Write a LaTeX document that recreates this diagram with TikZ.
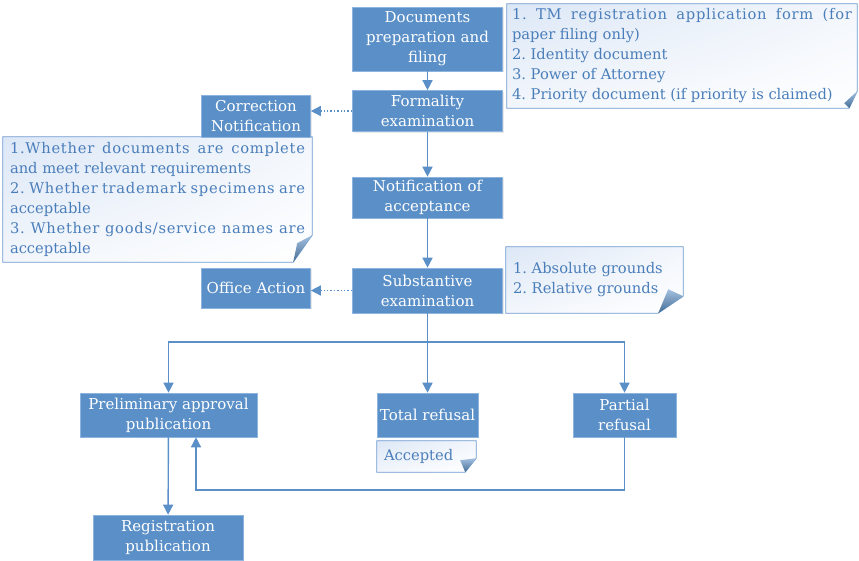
\documentclass[tikz,border=0pt]{standalone}
\usepackage{fontspec}
\setmainfont{DejaVu Serif}
\usetikzlibrary{arrows.meta,backgrounds,shadows,shadings}
\definecolor{boxblue}{RGB}{90,143,199}
\definecolor{boxedge}{RGB}{140,180,222}
\definecolor{notetext}{RGB}{74,126,186}
\definecolor{noteedge}{RGB}{110,155,208}
\definecolor{notefill}{RGB}{220,231,246}
\newcommand\resetsp{\spaceskip=0pt\xspaceskip=0pt\frenchspacing\relax}
\newcommand\jline[2]{\makebox[#1][s]{\resetsp\addfontfeature{LetterSpace=5}#2}}
\begin{document}
\begin{tikzpicture}[x=1pt,y=-1pt,
  box/.style={fill=boxblue, draw=boxedge, line width=0.6pt, text=white, align=center,
    inner sep=0pt, font=\fontsize{15}{20}\selectfont,
    drop shadow={opacity=0.18, shadow xshift=1.2pt, shadow yshift=-1.2pt}},
  notebox/.style={text=notetext, align=left, inner sep=0pt, font=\fontsize{14.7}{20}\selectfont},
  arr/.style={draw=boxblue, line width=1.4pt, -{Triangle[length=10pt,width=10pt]}},
  dotarr/.style={arr, dotted},
]
\useasboundingbox (0,0) rectangle (859,560);

% process boxes
\node[box, minimum width=150pt, minimum height=64pt] (docs) at (427.5,39) {Documents\\preparation and\\filing};
\node[box, minimum width=150pt, minimum height=41pt] (form) at (427.5,111) {Formality\\examination};
\node[box, minimum width=109pt, minimum height=42pt] (corr) at (256,116) {Correction\\Notification};
\node[box, minimum width=150pt, minimum height=41pt] (accp) at (427.5,197.5) {Notification of\\acceptance};
\node[box, minimum width=150pt, minimum height=45pt] (subs) at (427.5,290.5) {Substantive\\examination};
\node[box, minimum width=109pt, minimum height=40pt] (office) at (256,288) {Office Action};
\node[box, minimum width=177pt, minimum height=44pt] (prelim) at (168.5,415) {Preliminary approval\\publication};
\node[box, minimum width=101pt, minimum height=44pt] (total) at (427.5,415) {Total refusal};
\node[box, minimum width=103pt, minimum height=44pt] (partial) at (624.5,415) {Partial\\refusal};
\node[box, minimum width=150pt, minimum height=45pt] (reg) at (168,537.5) {Registration\\publication};

% notes
\node[notebox, minimum width=350pt, minimum height=104pt, text width=340pt] (n1) at (682,56)
  {\resetsp\jline{340pt}{1. TM registration application form (for}\\paper filing only)\\2. Identity document\\3. Power of Attorney\\4. Priority document (if priority is claimed)};
\node[notebox, minimum width=309pt, minimum height=125pt, text width=295pt] (n2) at (157.5,199.5)
  {\resetsp\jline{295pt}{1.Whether documents are complete}\\and meet relevant requirements\\\jline{295pt}{2. Whether trademark specimens are}\\acceptable\\\jline{295pt}{3. Whether goods/service names are}\\acceptable};
\node[notebox, minimum width=177pt, minimum height=66pt, text width=163pt] (n3) at (594.5,280)
  {\resetsp 1. Absolute grounds\\2. Relative grounds};
\node[notebox, minimum width=99pt, minimum height=31pt, text width=85pt] (n4) at (426.5,456.5)
  {Accepted};

\begin{scope}[on background layer]
\foreach \n/\a/\b/\ix/\iy in {n1/17/8/-13/5, n2/27/19/-15/19, n3/17/25/-15/24, n4/14/11/-16/12}{
  \shade[draw=noteedge, line width=0.8pt, upper left=notefill, upper right=notefill!35!white,
         lower left=notefill!35!white, lower right=white]
    (\n.north west) -- (\n.north east) -- ([yshift=\a pt]\n.south east)
    -- ([xshift=-\b pt]\n.south east) -- (\n.south west) -- cycle;
  \shade[top color=boxblue!55!white, bottom color=boxblue!75!black]
    ([yshift=\a pt]\n.south east) -- ([xshift=-\b pt]\n.south east)
    -- ([xshift=\ix pt, yshift=\iy pt]\n.south east) -- cycle;
}
\end{scope}

% connectors
\coordinate (br) at (427.5,342);
\coordinate (fb) at (196,490);
\draw[arr] (docs) -- (form);
\draw[dotarr] (form.west) -- (form.west -| corr.east);
\draw[arr] (form) -- (accp);
\draw[arr] (accp) -- (subs);
\draw[dotarr] (subs.west) -- (subs.west -| office.east);
\draw[arr] (subs.south) -- (total.north);
\draw[arr] (br) -| (prelim.north);
\draw[arr] (br) -| (partial.north);
\draw[arr] (partial.south) |- (fb) -- (fb |- prelim.south);
\draw[arr] (prelim) -- (reg);
\end{tikzpicture}
\end{document}
